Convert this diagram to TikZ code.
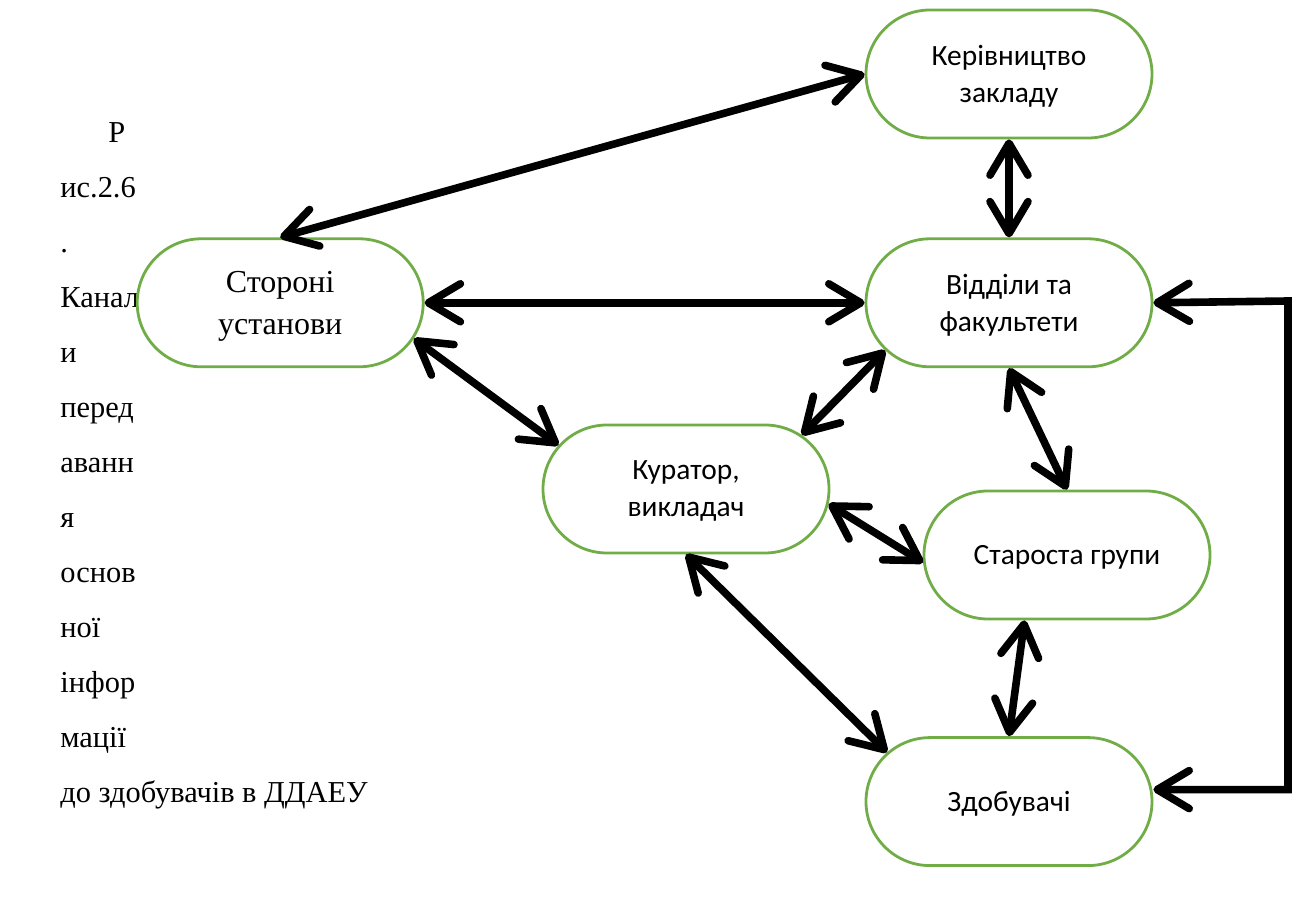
\documentclass[tikz,border=0pt]{standalone}
\usepackage{fontspec}
\setmainfont{Liberation Serif}
\newfontfamily\calibri{Carlito}
\usepackage{tikz}
\usetikzlibrary{arrows.meta,positioning,shapes.misc}
\definecolor{zelenyi}{RGB}{112,173,71}

\begin{document}
\begin{tikzpicture}[x=0.5pt,y=-0.5pt,
blok/.style={rounded rectangle,draw=zelenyi,line width=1.4pt,fill=white,minimum width=143pt,minimum height=64pt,align=center,inner sep=0pt,text depth=0pt,font=\calibri\fontsize{14.7}{18.5}\selectfont},
blokserif/.style={blok,font=\fontsize{16}{21}\selectfont},
arr/.style={{Straight Barb[length=16pt,width=19pt,round]}-{Straight Barb[length=16pt,width=19pt,round]},line width=3.8pt,line cap=round}
]
\useasboundingbox (0,0) rectangle (1298,924);

\node[anchor=north west,align=left,inner sep=0pt,font=\fontsize{15.2}{27.5}\selectfont] (pidpys) at (60,122)
  {\hspace*{24pt}Р\\ис.2.6\\.\\Канал\\и\\перед\\аванн\\я\\основ\\ної\\інфор\\мації\\до здобувачів в ДДАЕУ};

\node[blok] (kerivn) at (1009,74) {Керівництво\\закладу};
\node[blok,below=49pt of kerivn] (viddil) {Відділи та\\факультети};
\node[blokserif,left=220pt of viddil] (storon) {Стороні\\установи};
\node[blok] (kurator) at (686,489) {Куратор,\\викладач};
\node[blok] (starosta) at (1067,555) {Староста групи};
\node[blok,below=184pt of viddil] (zdob) {Здобувачі};

\draw[arr] (kerivn.west) -- (storon.north);
\draw[arr] (kerivn.south) -- (viddil.north);
\draw[arr] (storon.east) -- (viddil.west);
\draw[arr] (storon.-15) -- (kurator.161);
\draw[arr] (viddil.201) -- (kurator.25);
\draw[arr] (viddil.south) -- (starosta.north);
\draw[arr] (kurator.-6) -- (starosta.183);
\draw[arr] (kurator.south) -- (zdob.158);
\draw[arr] (starosta.237) -- (zdob.north);
\coordinate (povorot) at (1288,301);
\draw[arr] (viddil.east) -- (povorot) |- ([yshift=6pt]zdob.east);
\end{tikzpicture}
\end{document}
